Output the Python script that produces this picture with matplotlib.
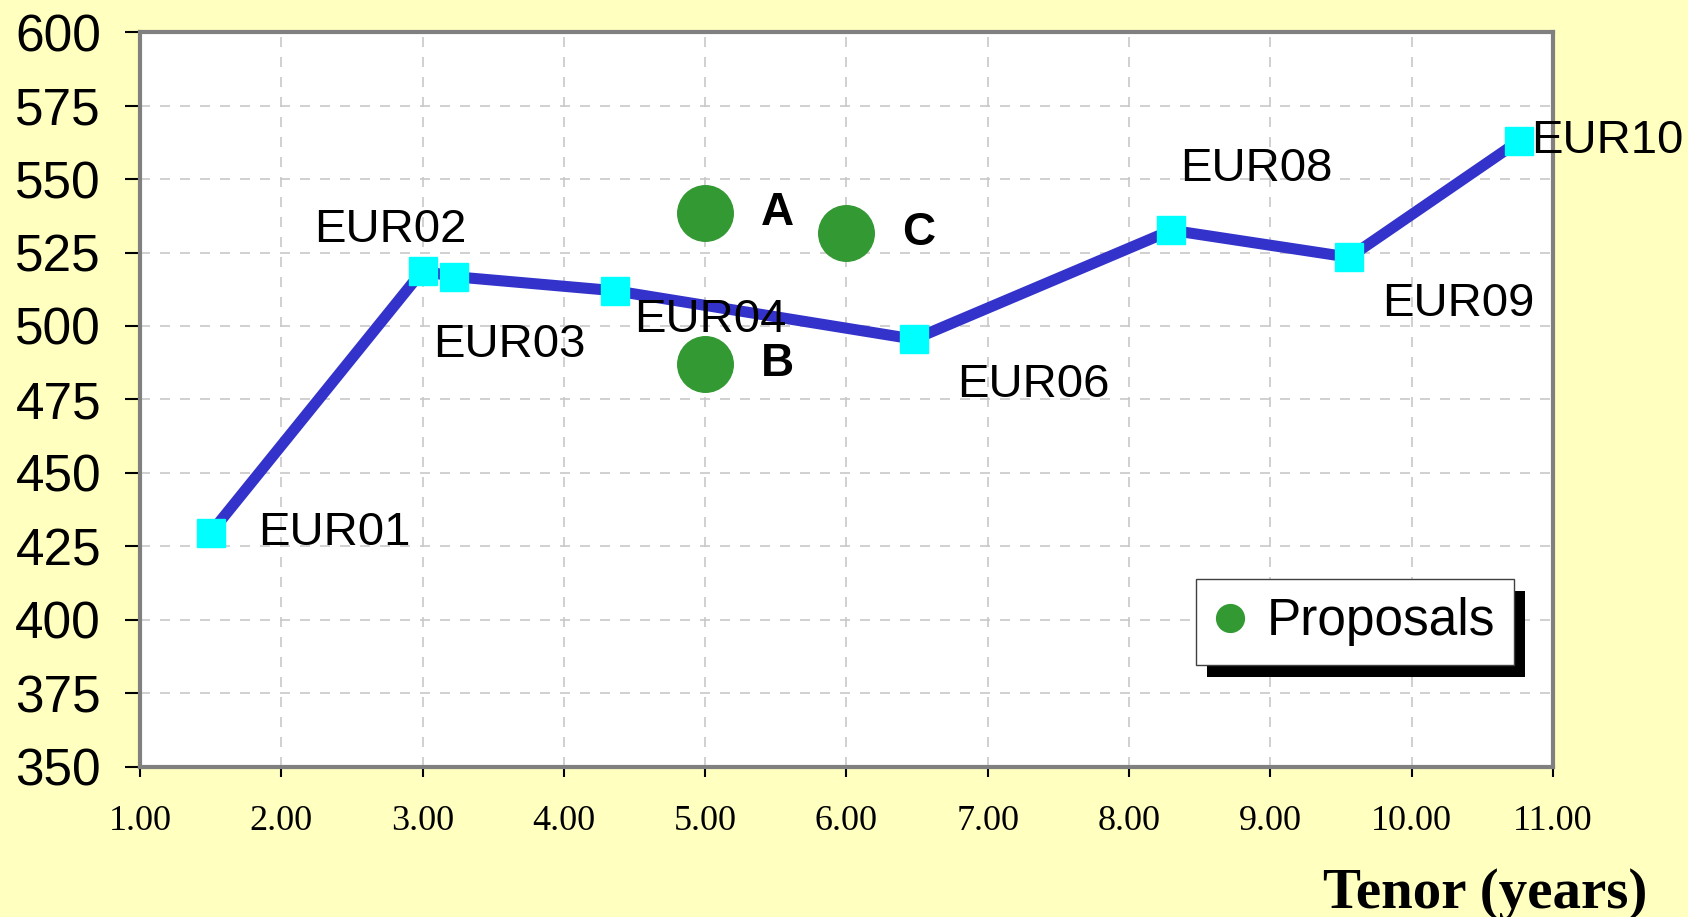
import matplotlib
matplotlib.use('Agg')
import matplotlib.pyplot as plt
import matplotlib.patheffects as pe
from matplotlib.ticker import FormatStrFormatter

# bond curve
bonds   = ["EUR01", "EUR02", "EUR03", "EUR04", "EUR06", "EUR08", "EUR09", "EUR10"]
tenors  = [1.50, 3.00, 3.22, 4.36, 6.48, 8.30, 9.56, 10.76]
spreads = [429.5, 518.8, 516.8, 512.0, 495.5, 532.6, 523.4, 563.0]

# proposals
prop_names   = ["A", "B", "C"]
prop_tenors  = [5.00, 5.00, 6.00]
prop_spreads = [538.4, 487.1, 531.8]

# label offsets in points (dx, dy, ha)
bond_offsets = {
    "EUR01": (34, 0, "left"),
    "EUR02": (-23, 29, "center"),
    "EUR03": (40, -49, "center"),
    "EUR04": (69, -21, "center"),
    "EUR06": (86, -33, "center"),
    "EUR08": (61, 44, "center"),
    "EUR09": (78, -34, "center"),
    "EUR10": (9, 0, "left"),
}

BG = "#FFFFC0"
SANS = "Liberation Sans"
SERIF = "Liberation Serif"

fig = plt.figure(figsize=(16.88, 9.17), dpi=100, facecolor=BG)
ax = fig.add_axes([0.0829, 0.1641, 0.920 - 0.0829, 0.9648 - 0.1641])
ax.set_facecolor("white")

ax.plot(tenors, spreads, color="#3333CC", lw=8, marker="s", ms=20,
        mfc="#00FFFF", mec="#00FFFF", zorder=3)
ax.plot(prop_tenors, prop_spreads, ls="none", marker="o", ms=40,
        mfc="#339933", mec="#339933", zorder=4, label="Proposals")

for name, x, y in zip(bonds, tenors, spreads):
    dx, dy, ha = bond_offsets[name]
    ax.annotate(name, (x, y), xytext=(dx, dy), textcoords="offset points",
                ha=ha, va="center", fontsize=34, family=SANS, zorder=5)

for name, x, y in zip(prop_names, prop_tenors, prop_spreads):
    ax.annotate(name, (x, y), xytext=(52, 0), textcoords="offset points",
                ha="center", va="center", fontsize=33, fontweight="bold",
                family=SANS, zorder=5)

ax.set_xlim(1, 11)
ax.set_ylim(350, 600)
ax.set_xticks(range(1, 12))
ax.set_yticks(range(350, 601, 25))
ax.xaxis.set_major_formatter(FormatStrFormatter("%.2f"))
ax.grid(True, ls=(0, (6, 6)), color="#C8C8C8", lw=1.2)
ax.set_axisbelow(True)

ax.tick_params(axis="y", direction="out", length=11, width=1.5, pad=17,
               labelsize=37)
ax.tick_params(axis="x", direction="out", length=7, width=1.5, pad=21,
               labelsize=26)
for lab in ax.get_yticklabels():
    lab.set_family(SANS)
for lab in ax.get_xticklabels():
    lab.set_family(SERIF)

for sp in ax.spines.values():
    sp.set_color("#808080")
    sp.set_linewidth(3)

leg = ax.legend(loc="upper left", bbox_to_anchor=(0.7085, 0.3686),
                bbox_transform=fig.transFigure, borderaxespad=0,
                fancybox=False, framealpha=1, edgecolor="#404040",
                markerscale=0.5, handlelength=0.6, handletextpad=0.42,
                borderpad=0.36,
                prop={"family": SANS, "size": 37})
frame = leg.get_frame()
frame.set_linewidth(1)
frame.set_path_effects([pe.SimplePatchShadow(offset=(8, -9), shadow_rgbFace="black", alpha=1),
                        pe.Normal()])

fig.text(0.9757, 0.010, "Tenor (years)", ha="right", va="baseline",
         fontsize=41, fontweight="bold", family=SERIF)

fig.savefig("out.png", dpi=100, facecolor=BG)
